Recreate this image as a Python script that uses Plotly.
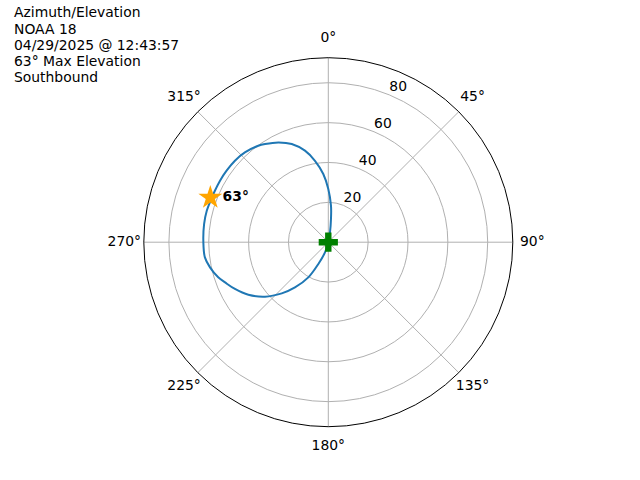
import plotly.graph_objects as go

# ---- data ----
TITLE_LINES = ["Azimuth/Elevation", "NOAA 18", "04/29/2025 @ 12:43:57",
               "63° Max Elevation", "Southbound"]

# pass track: azimuth (deg, clockwise from N) and radial value
TRACK_AZ = [5.0, 9.8, 6.6, 4.2, 0.0, 355.8, 350.7, 345.7, 339.6, 333.4, 327.2,
            324.0, 317.1, 311.1, 305.1, 299.6, 294.4, 290.3, 284.5, 278.3,
            269.9, 263.0, 258.0, 252.3, 248.7, 243.4, 236.7, 229.3, 222.3,
            216.4, 209.6, 204.6, 197.9, 197.9]
TRACK_R = [0.0, 5.0, 11.7, 18.4, 26.7, 34.3, 41.4, 47.4, 52.6, 56.0, 58.6,
           59.8, 61.5, 62.2, 62.4, 62.5, 62.5, 62.6, 63.0, 63.0,
           62.7, 62.4, 60.7, 58.0, 55.6, 52.4, 48.0, 41.9, 34.7,
           28.2, 20.3, 12.0, 5.4, 0.0]

MAX_AZ = [290.7]
MAX_R = [63.3]
MAX_LABEL = ["<b>63°</b>"]

START_AZ = [0.0]
START_R = [0.0]

ANG_TICKS = [0, 45, 90, 135, 180, 225, 270, 315]
ANG_LABELS = [f"{a}°" for a in ANG_TICKS]
RAD_TICKS = [20, 40, 60, 80]
RAD_LABELS = [str(t) for t in RAD_TICKS]
R_MAX = 92.6
RAD_LABEL_AZ = 22.5

# ---- layout constants ----
W, H = 640, 480
CX, CY, RPX = 328.3, 242.2, 184.5      # polar centre / radius in pixels
RPX2 = 212.0                           # overlay polar (for angular labels)
LABEL_PX = 204.0                       # distance of angular label centres
FONT = "DejaVu Sans"
FS = 13.9


def dom(rpx):
    return dict(x=[(CX - rpx) / W, (CX + rpx) / W],
                y=[1 - (CY + rpx) / H, 1 - (CY - rpx) / H])


R_MAX2 = R_MAX * RPX2 / RPX
ANG_LABEL_R = R_MAX * LABEL_PX / RPX

fig = go.Figure()

fig.add_trace(go.Scatterpolar(
    r=TRACK_R, theta=TRACK_AZ, mode="lines",
    line=dict(color="#1f77b4", width=2, shape="spline", smoothing=1.0),
    hoverinfo="skip", showlegend=False))

fig.add_trace(go.Scatterpolar(
    r=START_R, theta=START_AZ, mode="markers",
    marker=dict(symbol="cross", size=16, color="#008000"),
    showlegend=False))

fig.add_trace(go.Scatterpolar(
    r=MAX_R, theta=MAX_AZ, mode="markers+text", text=MAX_LABEL,
    textposition="middle right",
    textfont=dict(family=FONT, size=FS, color="black"),
    marker=dict(symbol="star", size=18, color="#ffa500"),
    showlegend=False))

# radial tick labels
fig.add_trace(go.Scatterpolar(
    r=RAD_TICKS, theta=[RAD_LABEL_AZ] * len(RAD_TICKS), mode="text",
    text=RAD_LABELS, textposition="top right",
    textfont=dict(family=FONT, size=FS, color="black"),
    hoverinfo="skip", showlegend=False))

# angular tick labels on a transparent, concentric overlay polar
fig.add_trace(go.Scatterpolar(
    r=[ANG_LABEL_R] * len(ANG_TICKS), theta=ANG_TICKS, mode="text",
    text=ANG_LABELS, textposition="middle center", subplot="polar2",
    textfont=dict(family=FONT, size=FS, color="black"),
    hoverinfo="skip", showlegend=False))

hidden_ang = dict(rotation=90, direction="clockwise", showline=False,
                  showgrid=False, showticklabels=False, ticks="")
hidden_rad = dict(range=[0, R_MAX2], showline=False, showgrid=False,
                  showticklabels=False, ticks="")

fig.update_layout(
    width=W, height=H,
    margin=dict(l=0, r=0, t=0, b=0, pad=0),
    paper_bgcolor="white", plot_bgcolor="white",
    font=dict(family=FONT, size=FS, color="black"),
    polar=dict(
        domain=dom(RPX),
        bgcolor="white",
        angularaxis=dict(
            rotation=90, direction="clockwise",
            tickmode="array", tickvals=ANG_TICKS, ticktext=ANG_LABELS,
            showticklabels=False,
            showline=True, linecolor="black", linewidth=1,
            showgrid=True, gridcolor="#b0b0b0", gridwidth=1,
            ticks=""),
        radialaxis=dict(
            range=[0, R_MAX], tickmode="array", tickvals=RAD_TICKS,
            showticklabels=False, ticks="", showline=False,
            showgrid=True, gridcolor="#b0b0b0", gridwidth=1),
    ),
    polar2=dict(domain=dom(RPX2), bgcolor="rgba(0,0,0,0)",
                angularaxis=hidden_ang, radialaxis=hidden_rad),
)

line_centers = [12.5, 28.6, 44.7, 60.8, 76.9]
for txt, yc in zip(TITLE_LINES, line_centers):
    fig.add_annotation(text=txt, xref="paper", yref="paper",
                       x=12 / W, y=1 - yc / H, xanchor="left", yanchor="middle",
                       showarrow=False,
                       font=dict(family=FONT, size=FS, color="black"))

fig.write_html("out.html", config={"displayModeBar": False},
               post_script="document.body.style.margin='0';")
